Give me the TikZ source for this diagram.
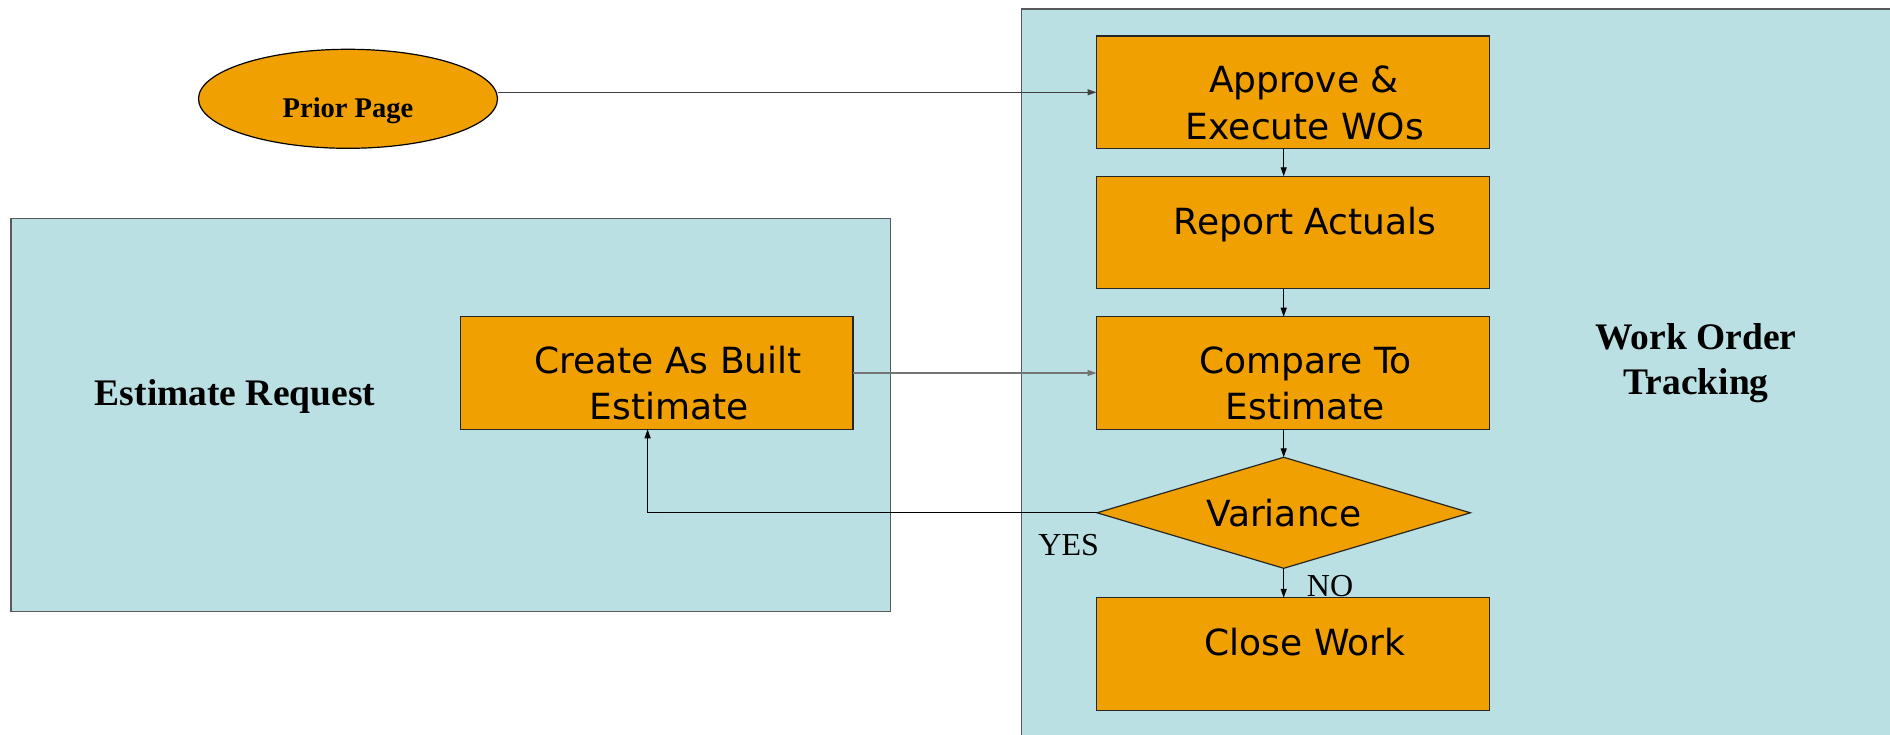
\documentclass[tikz,border=0pt]{standalone}
\usepackage{fontspec}
\setmainfont{Liberation Serif}
\newfontfamily\boxfont{DejaVu Sans}
\usetikzlibrary{shapes.geometric,arrows.meta}
\definecolor{panelblue}{RGB}{187,224,227}
\definecolor{steporange}{RGB}{240,160,0}

\begin{document}
\begin{tikzpicture}[x=1pt,y=-1pt,
  panel/.style={fill=panelblue,draw=black!65,line width=1.5pt},
  stepbox/.style={rectangle,draw=black!85,fill=steporange,line width=1.2pt,
    minimum width=392.7pt,minimum height=112.5pt,inner sep=0pt,outer sep=0pt},
  decision/.style={diamond,draw=black!85,fill=steporange,line width=1.2pt,
    minimum width=373.3pt,minimum height=111pt,inner sep=0pt,outer sep=0pt},
  oval/.style={ellipse,draw=black,fill=steporange,line width=1.2pt,
    minimum width=299pt,minimum height=99pt,inner sep=0pt,outer sep=0pt},
  conn/.style={draw=black,line width=1.2pt,-{Triangle[length=9pt,width=6pt]}},
  boxtext/.style={font=\boxfont\fontsize{36}{43}\selectfont,inner sep=0pt,anchor=base},
  title/.style={font=\bfseries\fontsize{37.5}{45}\selectfont,inner sep=0pt,anchor=base},
  answer/.style={font=\fontsize{32}{38}\selectfont,inner sep=0pt,anchor=base}]

\useasboundingbox (0,0) rectangle (1890,735);
\clip (0,0) rectangle (1890,735);

% swimlane panels
\path[panel] (10.8,218.3) rectangle (890.7,611.7);
\path[panel] (1021.6,9) rectangle (1910,760);

% shapes
\node[oval] (prior) at (348,98.8) {};
\node[stepbox] (approve) at (1292.85,92.3) {};
\node[stepbox] (report)  at (1292.85,232.55) {};
\node[stepbox] (compare) at (1292.85,373) {};
\node[stepbox] (close)   at (1292.85,654) {};
\node[stepbox] (create)  at (656.7,373) {};
\node[decision] (var) at (1283.7,512.8) {};

% labels
\node[font=\bfseries\fontsize{28.5}{34}\selectfont,inner sep=0pt,anchor=base] (priortxt) at (348,117.3) {Prior Page};
\node[boxtext] (approvea) at (1304,92.4) {Approve \&};
\node[boxtext] (approveb) at (1305,139.2) {Execute WOs};
\node[boxtext] (reporttxt) at (1305,234.4) {Report Actuals};
\node[boxtext] (comparea) at (1305.6,373.6) {Compare To};
\node[boxtext] (compareb) at (1305,419.6) {Estimate};
\node[boxtext] (createa) at (668,373.3) {Create As Built};
\node[boxtext] (createb) at (669,419) {Estimate};
\node[boxtext] (vartxt) at (1284,526) {Variance};
\node[boxtext] (closetxt) at (1305,655) {Close Work};

\node[title] (esttitle) at (235,405) {Estimate Request};
\node[title] (wotitlea) at (1696,349.3) {Work Order};
\node[title] (wotitleb) at (1696,394.7) {Tracking};

\node[answer] (yes) at (1068.7,555.7) {YES};
\node[answer] (no) at (1330,596.7) {NO};

% connectors
\draw[conn,draw=black!75] (prior.east |- approve.west) -- (approve.west);
\draw[conn] (var.north |- approve.south) -- (var.north |- report.north);
\draw[conn] (var.north |- report.south) -- (var.north |- compare.north);
\draw[conn] (var.north |- compare.south) -- (var.north);
\draw[conn] (var.south) -- (var.south |- close.north);
\draw[conn,draw=black!55] (create.east) -- (compare.west);
\coordinate (bend) at (647.6,512.8);
\draw[conn] (var.west) -- (bend) -- (bend |- create.south);
\end{tikzpicture}
\end{document}
